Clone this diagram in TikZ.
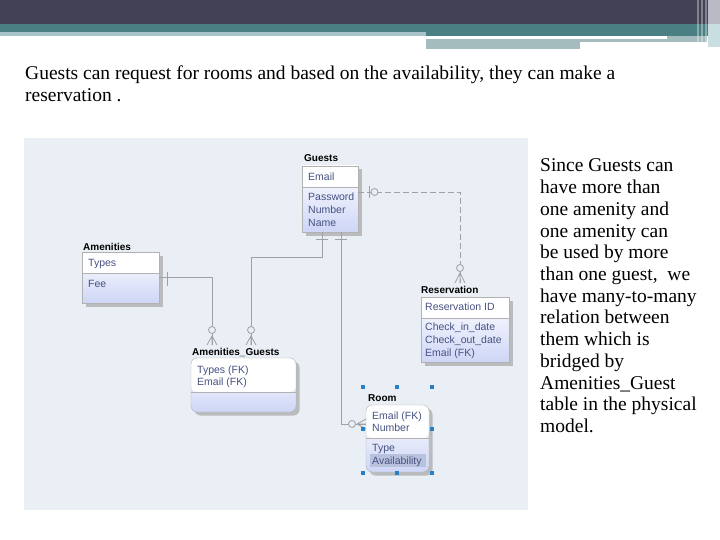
\documentclass[tikz,border=0pt]{standalone}
\usepackage{fontspec}
\setmainfont{Liberation Serif}
\newfontfamily\erfont{Liberation Sans}
\usetikzlibrary{shadows}
\definecolor{banddark}{RGB}{66,65,86}
\definecolor{bandteal}{RGB}{74,128,132}
\definecolor{bandpale}{RGB}{166,196,200}
\definecolor{bandgrey}{RGB}{164,188,190}
\definecolor{bandlilac}{RGB}{186,185,198}
\definecolor{bandmist}{RGB}{200,222,224}
\definecolor{canvasbg}{RGB}{233,239,245}
\definecolor{erblue}{RGB}{206,214,246}
\definecolor{ertext}{RGB}{70,82,130}
\definecolor{erline}{RGB}{160,160,166}
\definecolor{handle}{RGB}{38,128,200}
\definecolor{selrow}{RGB}{184,194,220}

\tikzset{
  tbltitle/.style={font=\erfont\bfseries\fontsize{10}{11}\selectfont, anchor=base west, inner sep=0pt},
  tblrow/.style={font=\erfont\fontsize{10.5}{12}\selectfont, text=ertext, anchor=base west, inner sep=0pt},
  tblbox/.style={draw=gray!60, top color=white, bottom color=erblue, inner sep=0pt,
    drop shadow={shadow xshift=3.5pt, shadow yshift=-3.5pt, fill=gray!70, opacity=0.7},
    path picture={\fill[white] (path picture bounding box.north west) rectangle ([yshift=-#1]path picture bounding box.north east);
      \draw[gray!60] ([yshift=-#1]path picture bounding box.north west) -- ([yshift=-#1]path picture bounding box.north east);}},
  rel/.style={draw=erline, line width=0.8pt},
  slide/.style={anchor=base west, inner sep=0pt, font=\fontsize{19.5}{22}\selectfont},
}

\begin{document}
\begin{tikzpicture}[x=1pt,y=-1pt]
  \useasboundingbox (0,0) rectangle (720,540);
  \fill[white] (0,0) rectangle (720,540);
  % banner
  \fill[banddark] (0,0) rectangle (720,24);
  \fill[bandteal] (0,24) rectangle (720,36);
  \fill[bandpale] (0,32) rectangle (426,36);
  \fill[bandgrey] (667,36) rectangle (707,39);
  \fill[bandgrey] (426,39) rectangle (707,42);
  \fill[bandgrey] (426,42) rectangle (580,49);
  \fill[bandlilac] (708,0) rectangle (720,24);
  \fill[bandmist] (708,24) rectangle (720,47);
  \foreach \x in {698,702,706}
    \draw[white, opacity=0.35, line width=1.2pt] (\x,0) -- (\x,45);

  \node[slide] (intro1) at (25,80) {Guests can request for rooms and based on the availability, they can make a};
  \node[slide] (intro2) at (25,102) {reservation .};

  % ER canvas
  \fill[canvasbg] (24,138) rectangle (528,510);

  \coordinate (ag1) at (212,345);
  \coordinate (ag2) at (251,345);
  \coordinate (rs1) at (460,283);

  \node[tblbox=21pt, minimum width=77pt, minimum height=51pt] (amen) at (120.5,277.5) {};
  \node[tblbox=21pt, minimum width=56pt, minimum height=66pt] (guests) at (330,199) {};
  \node[tblbox=21pt, minimum width=88pt, minimum height=65pt] (resv) at (465,329.5) {};
  \node[tblbox=34pt, minimum width=105pt, minimum height=54pt, rounded corners=6pt] (amgu) at (243.5,385) {};
  \node[tblbox=33pt, minimum width=63pt, minimum height=67pt, rounded corners=6pt] (room) at (397.5,438.5) {};

  % relations
  \draw[rel] (amen.east) -| (ag1);
  \draw[rel] ([xshift=-8pt]guests.south) -- ++(0,25) -| (ag2);
  \draw[rel] ([xshift=11pt]guests.south) |- ([yshift=14pt]room.west);
  \draw[rel, dash pattern=on 6pt off 3pt] ([yshift=7pt]guests.east) -| (rs1);

  \draw[rel] (167,272) -- (167,286);
  \draw[rel] (316,239) -- (328,239) (335,239) -- (347,239);
  \draw[rel] (369,186) -- (369,198);
  \draw[rel, fill=canvasbg] (374.5,192) circle (3.5pt);
  \foreach \x in {212,251} {
    \draw[rel, fill=canvasbg] (\x,330) circle (3.5pt);
    \draw[rel] (\x-5,345) -- (\x,336) -- (\x+5,345) (\x,336) -- (\x,345);
  }
  \draw[rel, fill=canvasbg] (460,268) circle (3.5pt);
  \draw[rel] (455,283) -- (460,273) -- (465,283) (460,273) -- (460,283);
  \draw[rel, fill=canvasbg] (352,424) circle (3.5pt);
  \draw[rel] (366,419) -- (357,424) -- (366,429) (357,424) -- (366,424);

  % tables
  \node[tbltitle] (amenT) at (83,250) {Amenities};
  \node[tblrow] (amen1) at (88,266.5) {Types};
  \node[tblrow] (amen2) at (88,287.5) {Fee};

  \node[tbltitle] (guestsT) at (304,162) {Guests};
  \node[tblrow] (guests1) at (308,180.5) {Email};
  \node[tblrow] (guests2) at (308,201) {Password};
  \node[tblrow] (guests3) at (308,213.5) {Number};
  \node[tblrow] (guests4) at (308,226.5) {Name};

  \node[tbltitle] (resvT) at (421,293) {Reservation};
  \node[tblrow] (resv1) at (425,310.5) {Reservation ID};
  \node[tblrow] (resv2) at (425,330.5) {Check\_in\_date};
  \node[tblrow] (resv3) at (425,343.5) {Check\_out\_date};
  \node[tblrow] (resv4) at (425,356.5) {Email (FK)};

  \node[tbltitle] (amguT) at (192,355) {Amenities\_Guests};
  \node[tblrow] (amgu1) at (197,373) {Types (FK)};
  \node[tblrow] (amgu2) at (197,385) {Email (FK)};

  \fill[selrow] (370,454) rectangle (426,467);
  \node[tbltitle] (roomT) at (368,401) {Room};
  \node[tblrow] (room1) at (372,419.5) {Email (FK)};
  \node[tblrow] (room2) at (372,431.5) {Number};
  \node[tblrow] (room3) at (372,451.5) {Type};
  \node[tblrow] (room4) at (372,464.5) {Availability};

  % selection handles
  \foreach \x/\y in {363/387,397/387,432/387,363/429,432/429,363/473,397/473,432/473}
    \fill[handle] (\x-2,\y-2) rectangle (\x+2,\y+2);

  % note on the right
  \foreach \t [count=\i] in {Since Guests can, have more than, one amenity and, one amenity can,
      be used by more, {than one guest,\ \ we}, have many-to-many, relation between,
      them which is, bridged by, Amenities\_Guest, table in the physical, model.}
    \node[slide] (note\i) at (540,{172+21.7*(\i-1)}) {\t};
\end{tikzpicture}
\end{document}
